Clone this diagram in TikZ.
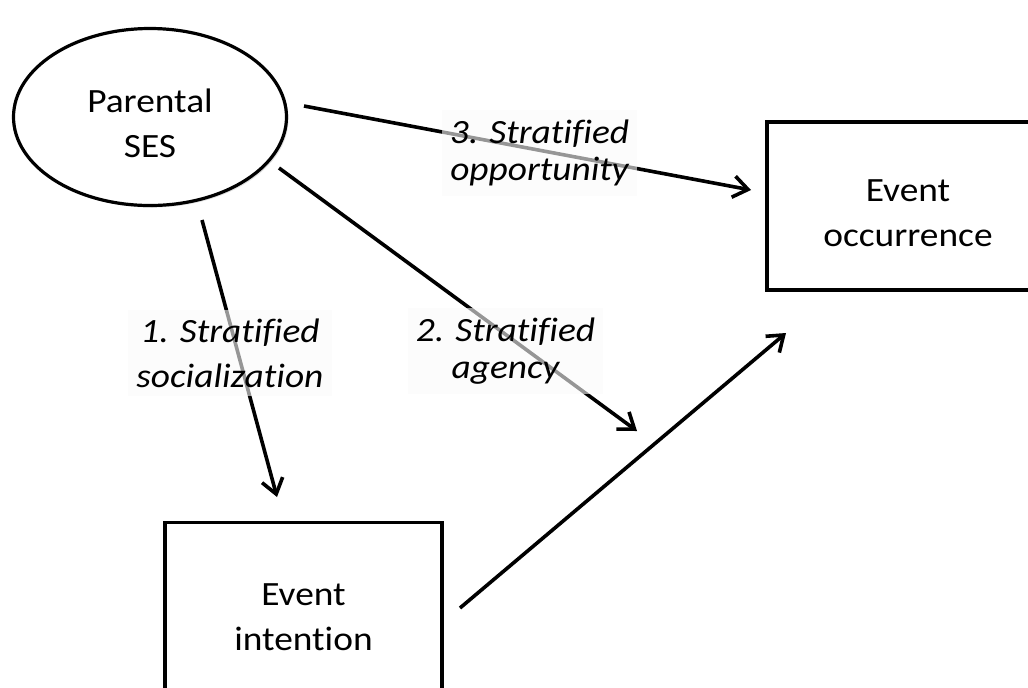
\documentclass[tikz,border=0pt]{standalone}
\usepackage{fontspec}
\setmainfont{Carlito}[FakeStretch=1.1,Ligatures=NoCommon]
\usetikzlibrary{arrows.meta,shapes.geometric,shadows}

\begin{document}
\begin{tikzpicture}[x=0.75pt,y=-0.75pt,
    every node/.style={font=\fontsize{25.5}{33.75}\selectfont,align=center},
    box/.style={draw,line width=2.4pt,fill=white,inner sep=0pt,
      drop shadow={shadow xshift=1.5pt,shadow yshift=-1.5pt,opacity=0.25}},
    lbl/.style={fill=black!2,fill opacity=0.6,text opacity=1,inner sep=0pt,
      font=\fontsize{25.5}{28}\selectfont\itshape},
    arr/.style={line width=2.7pt,-{Straight Barb[length=11pt,width=16pt]}}]
  \useasboundingbox (0,0) rectangle (1028,687);
  \clip (0,0) rectangle (1028,687);
  % boxes
  \node[box,ellipse,minimum width=204.75pt,minimum height=132.75pt] (ses) at (150,117)
    {\rule{0pt}{27pt}Parental\\SES};
  \node[box,minimum width=211.5pt,minimum height=126pt] (occ) at (908,206)
    {\rule{0pt}{27pt}Event\\occurrence};
  \node[box,minimum width=207.75pt,minimum height=143pt] (int) at (303.5,617.5)
    {Event\\intention};
  % arrow ends
  \coordinate (soc0) at (202,220);  \coordinate (soc1) at (277,497);
  \coordinate (agn0) at (279,168);  \coordinate (agn1) at (637,431);
  \coordinate (opp0) at (304,106);  \coordinate (opp1) at (751,190);
  \coordinate (eff0) at (460,608);  \coordinate (eff1) at (786,333);
  \foreach \s in {soc,agn,opp,eff}
    \draw[arr] (\s0) -- (\s1);
  % labels
  \node[lbl,minimum width=153pt,minimum height=65pt,
    font=\fontsize{25.5}{33.75}\selectfont\itshape] (lsoc) at (230,353) {1. Stratified\\socialization};
  \node[lbl,minimum width=146pt,minimum height=64.5pt] (lagn) at (505.5,351) {2. Stratified\\agency};
  \node[lbl,minimum width=146pt,minimum height=64pt] (lopp) at (539.5,153) {3. Stratified\\opportunity};
\end{tikzpicture}
\end{document}
